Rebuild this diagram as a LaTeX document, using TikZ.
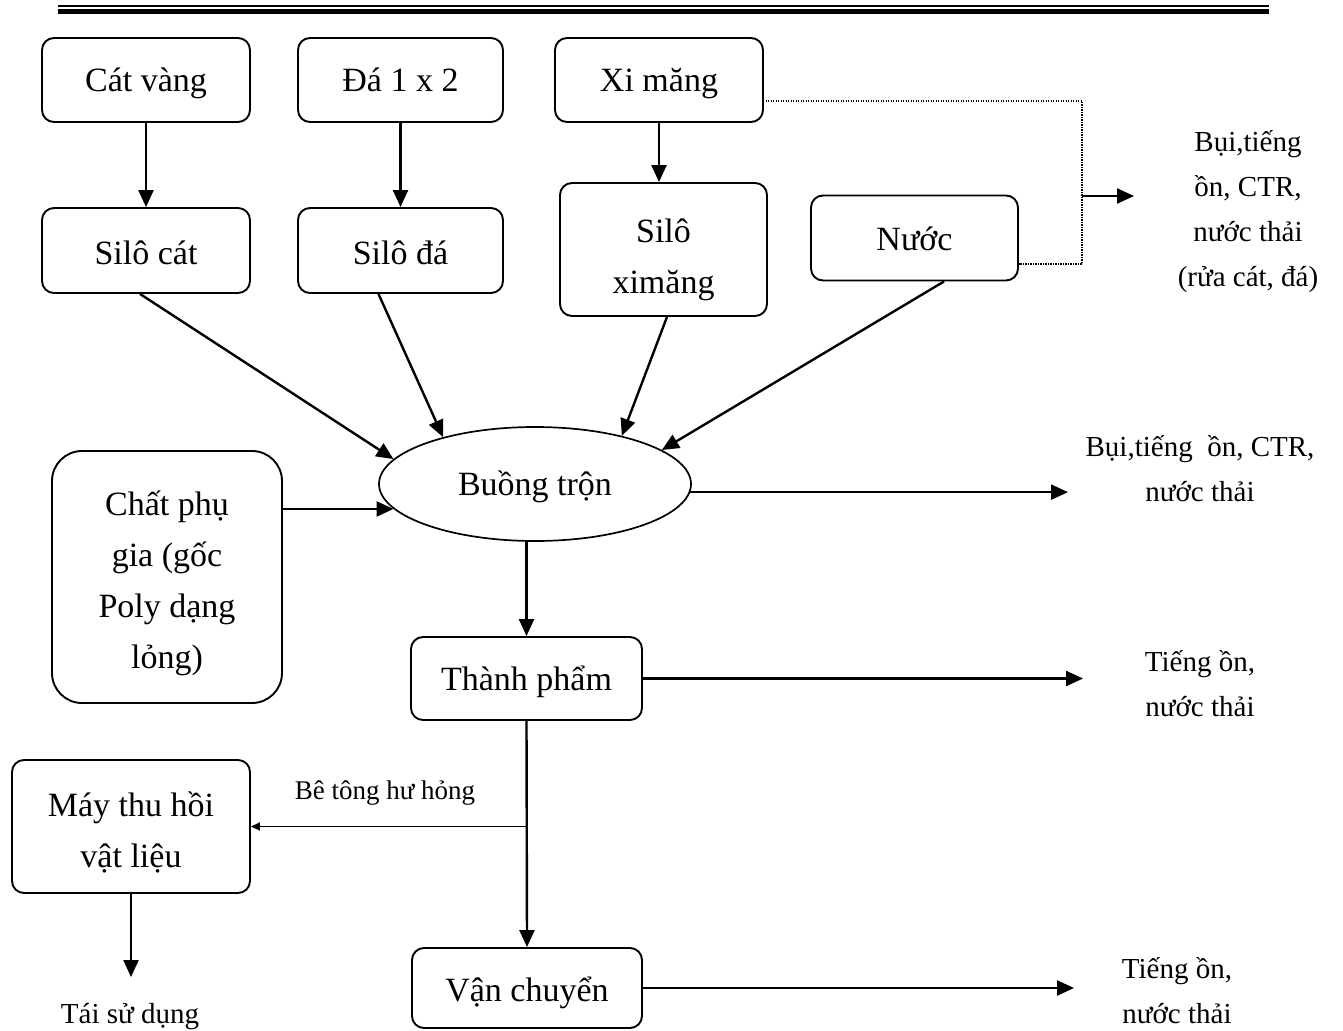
\documentclass[tikz,border=0pt]{standalone}
\usepackage{fontspec}
\setmainfont{Liberation Serif}
\usetikzlibrary{arrows.meta,shapes.geometric,calc}
\newcommand\lowertext[2]{\raisebox{-#1pt}[\height][\depth]{#2}}
\begin{document}
\begin{tikzpicture}[x=1pt,y=-1pt,
 box/.style={draw, line width=1.9pt, rounded corners=12pt, inner sep=0pt, align=center, font=\fontsize{34}{51}\selectfont},
 arr/.style={line width=2.4pt, -{Triangle[length=17pt,width=15pt]}},
 thinarr/.style={line width=1.7pt, -{Triangle[length=9pt,width=8pt]}},
 dots/.style={line width=1.7pt, dash pattern=on 1.4pt off 1.1pt},
 small/.style={align=center, inner sep=0pt, font=\fontsize{29}{45}\selectfont},
]
\useasboundingbox (0,0) rectangle (1343,1030);
% top rule
\coordinate (r1a) at (58,6); \coordinate (r1b) at (1269,6);
\coordinate (r2a) at (58,11.5); \coordinate (r2b) at (1269,11.5);
\draw[line width=2.5pt] (r1a) -- (r1b);
\draw[line width=5pt] (r2a) -- (r2b);

% nodes
\node[box, minimum width=208pt, minimum height=84pt] (cat) at (146,80) {\lowertext{3}{Cát vàng}};
\node[box, minimum width=205pt, minimum height=84pt] (da) at (400.5,80) {Đá 1 x 2};
\node[box, minimum width=208pt, minimum height=84pt] (xm) at (659,80) {\lowertext{4}{Xi măng}};
\node[box, minimum width=208pt, minimum height=85pt] (silocat) at (146,250.5) {\lowertext{2}{Silô cát}};
\node[box, minimum width=205pt, minimum height=85pt] (siloda) at (400.5,250.5) {\lowertext{2}{Silô đá}};
\node[box, minimum width=207pt, minimum height=133pt] (siloxm) at (663.5,249.5) {\lowertext{10}{Silô}\\\lowertext{10}{ximăng}};
\node[box, minimum width=207pt, minimum height=85pt] (nuoc) at (914.5,238) {\lowertext{1}{Nước}};
\node[draw, ellipse, line width=1.7pt, minimum width=312pt, minimum height=114pt, inner sep=0pt, font=\fontsize{34}{51}\selectfont] (bt) at (535,484) {\lowertext{3}{Buồng trộn}};
\node[box, rounded corners=30pt, minimum width=230pt, minimum height=252pt] (pg) at (167,577) {\lowertext{6}{Chất phụ}\\\lowertext{6}{gia (gốc}\\\lowertext{6}{Poly dạng}\\\lowertext{6}{lỏng)}};
\node[box, minimum width=231pt, minimum height=83pt] (tp) at (526.5,678.5) {\lowertext{3}{Thành phẩm}};
\node[box, minimum width=238pt, minimum height=133pt] (may) at (131,826.5) {\lowertext{6}{Máy thu hồi}\\\lowertext{6}{vật liệu}};
\node[box, minimum width=230pt, minimum height=80pt] (vc) at (527,988) {\lowertext{5}{Vận chuyển}};

% side texts
\node[small] (t1) at (1248,212) {Bụi,tiếng\\ồn, CTR,\\nước thải\\(rửa cát, đá)};
\node[small] (t2) at (1200,469) {Bụi,tiếng\ \ ồn, CTR,\\nước thải};
\node[small] (t3) at (1200,684) {Tiếng ồn,\\nước thải};
\node[small] (t4) at (1177,991) {Tiếng ồn,\\nước thải};
\node[small] (tai) at (130,1017) {Tái sử dụng};
\node[small, font=\fontsize{27}{40}\selectfont] (bthh) at (385,793) {Bê tông hư hỏng};

% helper coordinates
\coordinate (d1) at (763,101);
\coordinate (dx) at (1082,101);
\coordinate (d2) at (1082,264);
\coordinate (d3) at (1082,196);
\coordinate (e1) at (1134,196);
\coordinate (e2) at (1068,0);
\coordinate (e3) at (1083,0);
\coordinate (e4) at (1074,0);
\coordinate (taiend) at (131,977);

% vertical arrows
\draw[arr] (cat.south) -- (silocat.north);
\draw[arr] (da.south) -- (siloda.north);
\draw[arr] (xm.south) -- (xm.south |- siloxm.north);

% diagonal arrows
\draw[arr] ($(silocat.south)+(-6,0)$) -- (bt.170);
\draw[arr] ($(siloda.south)+(-22,0)$) -- (bt.153);
\draw[arr] ($(siloxm.south)+(3.5,0)$) -- (bt.29);
\draw[arr] ($(nuoc.south)+(29.5,0)$) -- (bt.15);
\draw[arr] (pg.east |- bt.190) -- (bt.190);

% dotted
\draw[dots] (d1) -- (dx) -- (d2) -- (nuoc.east |- d2);
\draw[arr] (d3) -- (e1);

% outputs
\draw[arr] (bt.-3) -- (bt.-3 -| e2);
\draw[arr] (bt.south -| tp.north) -- (tp.north);
\draw[arr] (tp.east) -- (tp.east -| e3);
\draw[arr] (tp.south) -- (vc.north);
\draw[thinarr] (tp.south |- may.east) -- (may.east);
\draw[arr] (may.south) -- (taiend);
\draw[arr] (vc.east) -- (vc.east -| e4);
\end{tikzpicture}
\end{document}
